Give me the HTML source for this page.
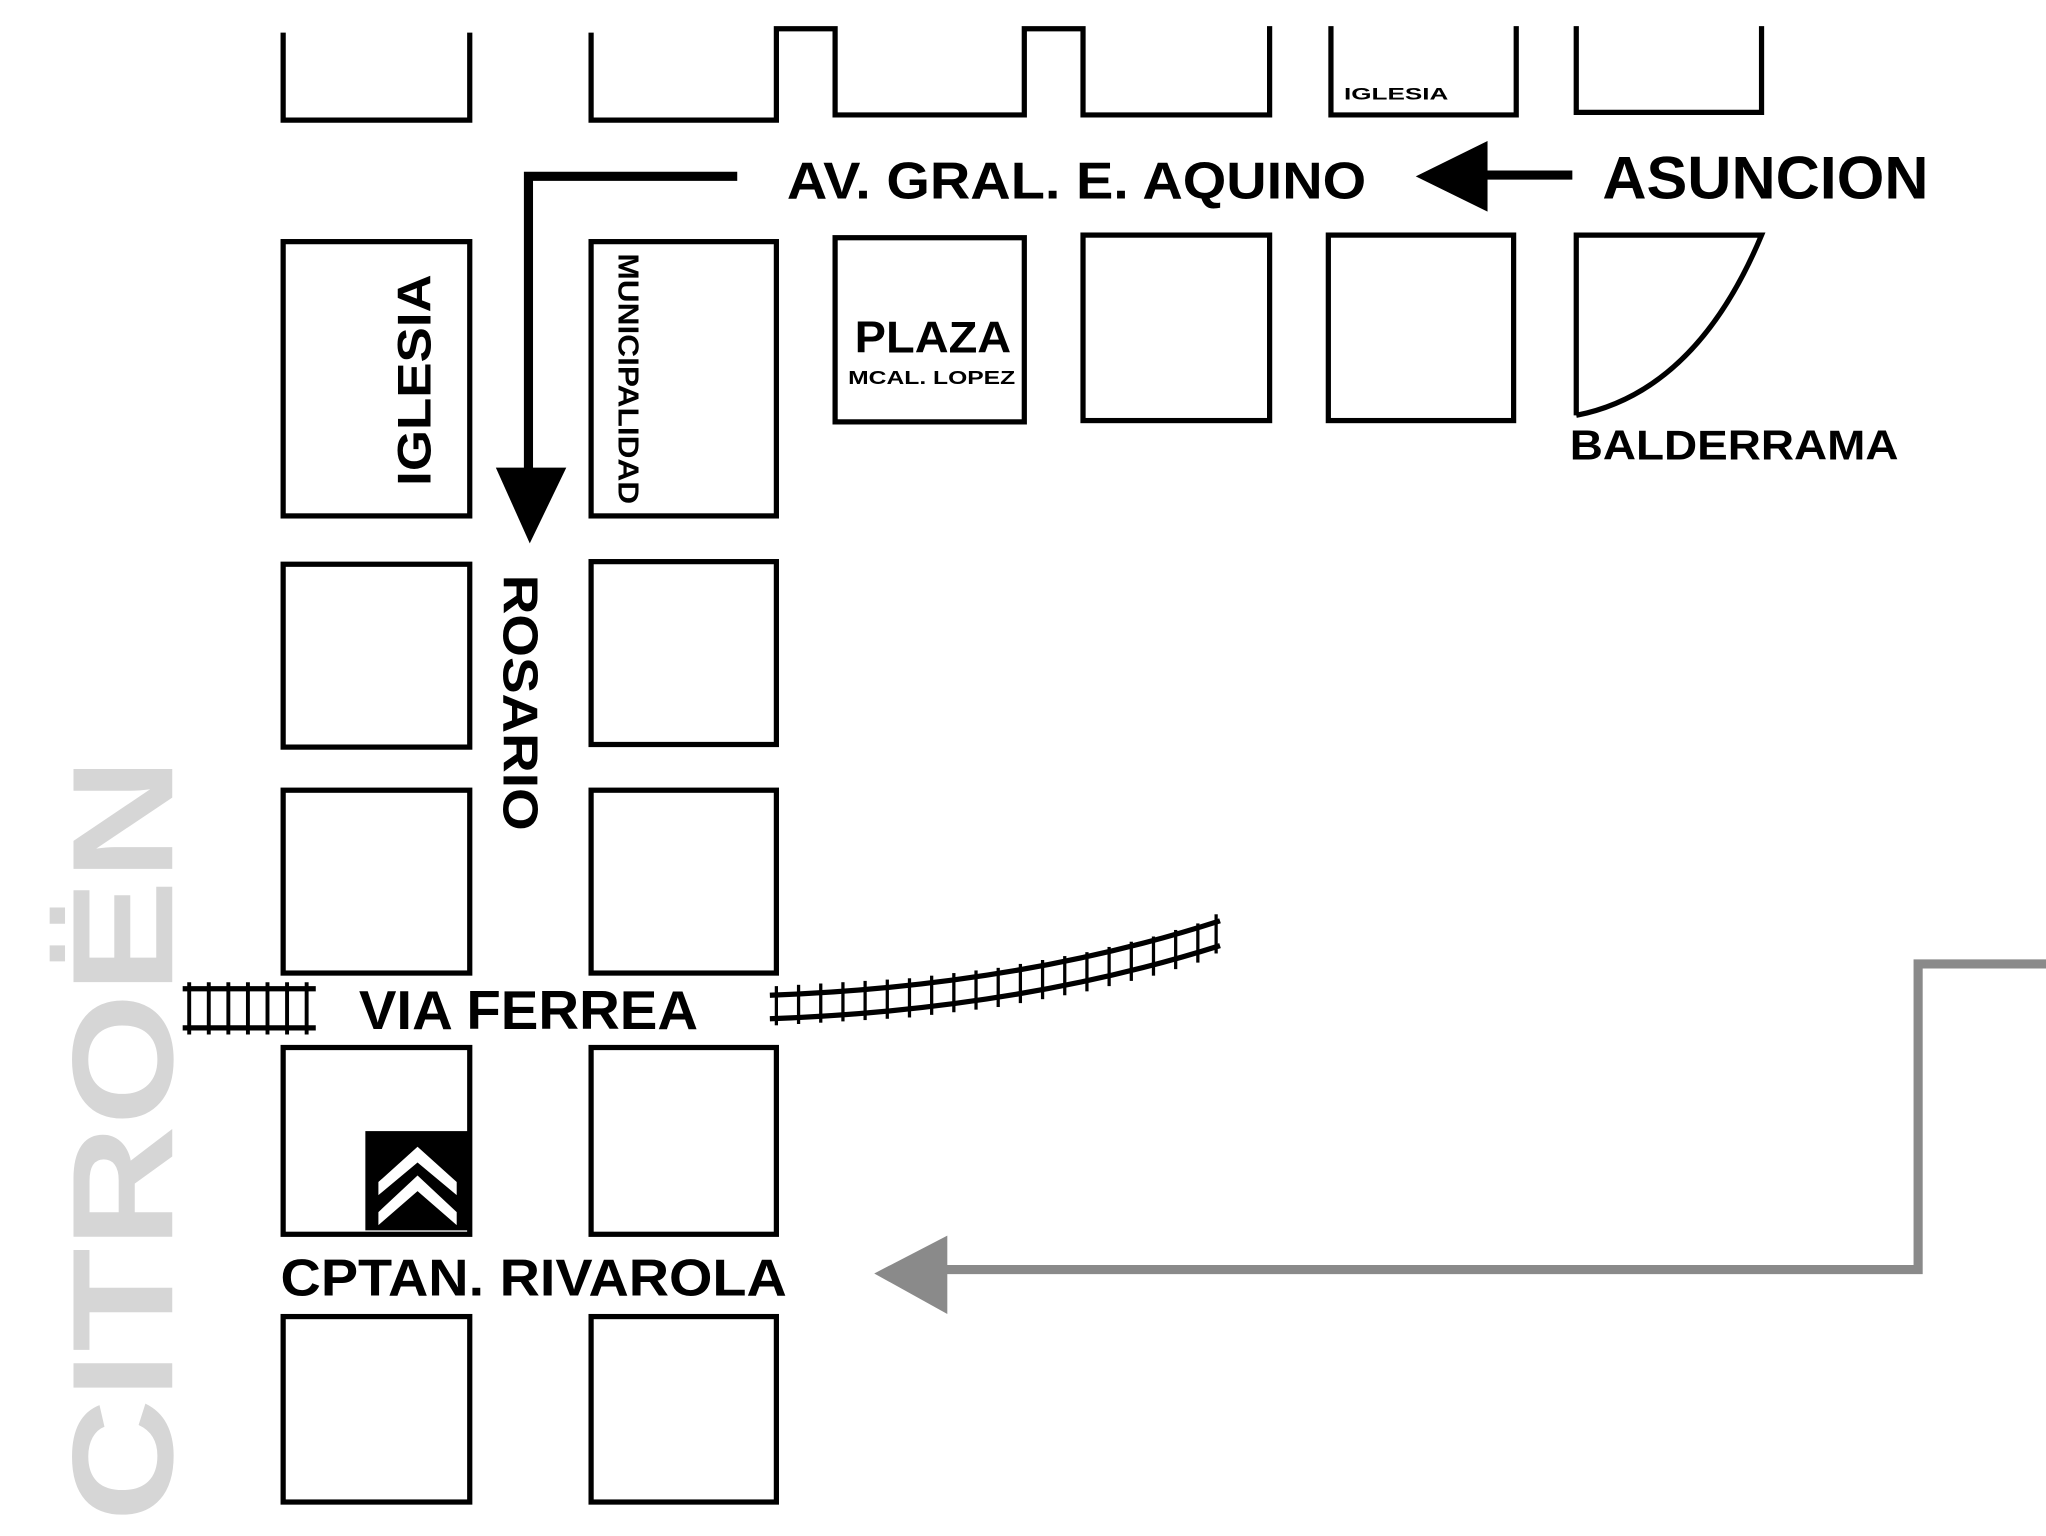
<!DOCTYPE html>
<html><head><meta charset="utf-8"><style>
html,body{margin:0;padding:0;background:#fff;}
svg{display:block;}
text{font-family:"Liberation Sans",sans-serif;font-weight:bold;fill:#000;}
</style></head><body>
<svg width="2046" height="1536" viewBox="0 0 1568 1176" preserveAspectRatio="none" xmlns="http://www.w3.org/2000/svg">
<rect width="1568" height="1176" fill="#fff"/>
<g fill="none" stroke="#000" stroke-width="4">
<path d="M217,25 V92 H360 V25"/>
<path d="M453,25 V92 H595 V22 H640 V88 H785 V22 H830 V88 H973 V20"/>
<path d="M1020,20 V88 H1162 V20"/>
<path d="M1208,20 V86 H1350 V20"/>
<rect x="217" y="185" width="143" height="210"/>
<rect x="453" y="185" width="142" height="210"/>
<rect x="640" y="182" width="145" height="141"/>
<rect x="830" y="180" width="143" height="142"/>
<rect x="1018" y="180" width="142" height="142"/>
<path d="M1208,318 V180 H1350 Q1300,300 1208,318"/>
<rect x="217" y="432" width="143" height="140"/>
<rect x="453" y="430" width="142" height="140"/>
<rect x="217" y="605" width="143" height="140"/>
<rect x="453" y="605" width="142" height="140"/>
<rect x="217" y="802" width="143" height="143"/>
<rect x="453" y="802" width="142" height="143"/>
<rect x="217" y="1008" width="143" height="142"/>
<rect x="453" y="1008" width="142" height="142"/>
</g>
<rect x="280" y="866" width="80" height="76" fill="#000"/>
<path d="M290,905 L320,878 L350,905 L350,915 L320,890 L290,915Z M290,928 L320,900 L350,928 L350,938 L320,912 L290,938Z" fill="#fff"/>
<path d="M565,135 H405 V365" fill="none" stroke="#000" stroke-width="7"/>
<path d="M380,358 H434 L406,416Z" fill="#000"/>
<path d="M1205,134 H1135" fill="none" stroke="#000" stroke-width="7"/>
<path d="M1085,135 L1140,108 L1140,162Z" fill="#000"/>
<path d="M1568,738 H1470 V972 H720" fill="none" stroke="#8a8a8a" stroke-width="7"/>
<path d="M670,975 L726,946 L726,1006Z" fill="#8a8a8a"/>
<g stroke="#000" stroke-width="4" fill="none">
<line x1="140" y1="757" x2="242" y2="757"/><line x1="140" y1="787" x2="242" y2="787"/>
<path d="M145,752 V792 M160,752 V792 M175,752 V792 M190,752 V792 M205,752 V792 M220,752 V792 M235,752 V792" stroke-width="3"/>
<path d="M590,762 Q780,755 935,705" /><path d="M590,780 Q780,773 935,724"/>
</g>
<g stroke="#000" stroke-width="2.5">
<line x1="595" y1="755" x2="595" y2="785"/><line x1="612" y1="754" x2="612" y2="784"/><line x1="629" y1="753" x2="629" y2="783"/><line x1="646" y1="752" x2="646" y2="782"/><line x1="663" y1="751" x2="663" y2="781"/><line x1="680" y1="750" x2="680" y2="780"/><line x1="697" y1="749" x2="697" y2="779"/><line x1="714" y1="747" x2="714" y2="777"/><line x1="731" y1="745" x2="731" y2="775"/><line x1="748" y1="743" x2="748" y2="773"/><line x1="765" y1="741" x2="765" y2="771"/><line x1="782" y1="738" x2="782" y2="768"/><line x1="799" y1="735" x2="799" y2="765"/><line x1="816" y1="732" x2="816" y2="762"/><line x1="833" y1="729" x2="833" y2="759"/><line x1="850" y1="725" x2="850" y2="755"/><line x1="867" y1="721" x2="867" y2="751"/><line x1="884" y1="717" x2="884" y2="747"/><line x1="901" y1="712" x2="901" y2="742"/><line x1="918" y1="707" x2="918" y2="737"/><line x1="932" y1="700" x2="932" y2="730"/>
</g>
<text x="603" y="152" font-size="40" textLength="444" lengthAdjust="spacingAndGlyphs">AV. GRAL. E. AQUINO</text>
<text x="1228" y="152" font-size="46" textLength="250" lengthAdjust="spacingAndGlyphs">ASUNCION</text>
<text x="1030" y="76" font-size="13" textLength="80" lengthAdjust="spacingAndGlyphs">IGLESIA</text>
<text transform="translate(330,372) rotate(-90)" font-size="36" textLength="162" lengthAdjust="spacingAndGlyphs">IGLESIA</text>
<text transform="translate(474,194) rotate(90)" font-size="22" textLength="192" lengthAdjust="spacingAndGlyphs">MUNICIPALIDAD</text>
<text x="655" y="270" font-size="34" textLength="120" lengthAdjust="spacingAndGlyphs">PLAZA</text>
<text x="650" y="294" font-size="14" textLength="128" lengthAdjust="spacingAndGlyphs">MCAL. LOPEZ</text>
<text x="1203" y="352" font-size="32" textLength="252" lengthAdjust="spacingAndGlyphs">BALDERRAMA</text>
<text transform="translate(386,440) rotate(90)" font-size="38" textLength="196" lengthAdjust="spacingAndGlyphs">ROSARIO</text>
<text x="275" y="788" font-size="42" textLength="260" lengthAdjust="spacingAndGlyphs">VIA FERREA</text>
<text x="215" y="992" font-size="40" textLength="388" lengthAdjust="spacingAndGlyphs">CPTAN. RIVAROLA</text>
<text transform="translate(132,1165) rotate(-90)" font-size="110" textLength="585" lengthAdjust="spacingAndGlyphs" style="fill:#d6d6d6">CITROËN</text>
</svg>
</body></html>
